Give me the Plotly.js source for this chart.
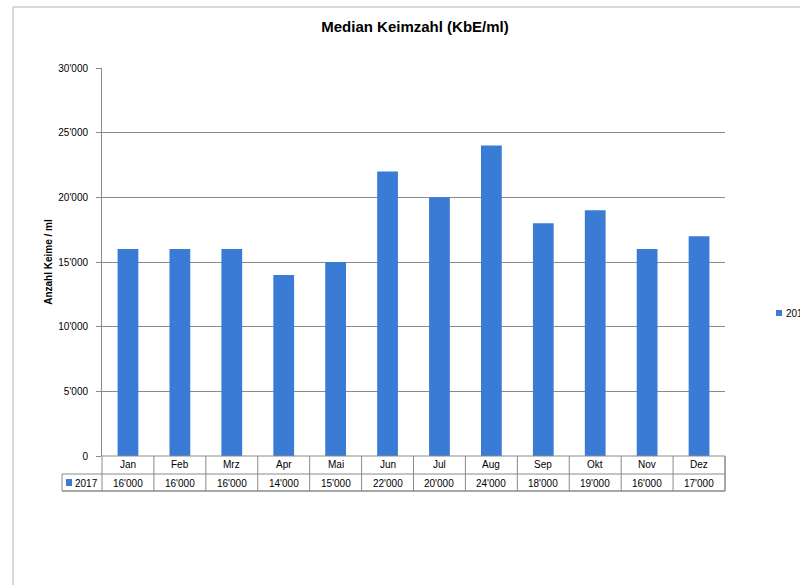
<!DOCTYPE html>
<html>
<head>
<meta charset="utf-8">
<script src="https://cdn.plot.ly/plotly-3.0.1.min.js"></script>
<style>html,body{margin:0;padding:0;background:#fff;}#chart{width:800px;height:585px;}</style>
</head>
<body>
<div id="chart"></div>
<script>
const months = ['Jan','Feb','Mrz','Apr','Mai','Jun','Jul','Aug','Sep','Okt','Nov','Dez'];
const values2017 = [16000,16000,16000,14000,15000,22000,20000,24000,18000,19000,16000,17000];
const seriesName = '2017';
const yTickVals = [0,5000,10000,15000,20000,25000,30000];
const yTickText = ['0',"5'000","10'000","15'000","20'000","25'000","30'000"];
const titleText = 'Median Keimzahl (KbE/ml)';
const yTitleText = 'Anzahl Keime / ml';

const W = 800, H = 585;
const L = 102, R = 725, T = 68, B = 456;
const pw = R - L, ph = B - T;
const px = x => (x - L) / pw;
const py = y => (B - y) / ph;

const barColor = '#3a7bd5';
const lineColor = '#8a8a8a';
const font = 'Liberation Sans, Arial, sans-serif';

function fmt(v) {
  const s = String(v);
  return s.length > 3 ? s.slice(0, s.length - 3) + "'" + s.slice(-3) : s;
}

const shapes = [];
const annotations = [];

// outer chart border
shapes.push({type:'rect', xref:'paper', yref:'paper', x0:px(13), x1:px(830), y0:py(7), y1:py(620),
  line:{color:'#b4b4b4', width:1}, fillcolor:'rgba(0,0,0,0)', layer:'below'});

// table horizontal lines
shapes.push({type:'line', xref:'paper', yref:'paper', x0:px(L), x1:px(R), y0:py(B), y1:py(B), line:{color:lineColor,width:1}});
shapes.push({type:'line', xref:'paper', yref:'paper', x0:px(62), x1:px(R), y0:py(474), y1:py(474), line:{color:lineColor,width:1}});
shapes.push({type:'line', xref:'paper', yref:'paper', x0:px(62), x1:px(R), y0:py(491), y1:py(491), line:{color:lineColor,width:1.5}});
// table left verticals
shapes.push({type:'line', xref:'paper', yref:'paper', x0:px(62), x1:px(62), y0:py(474), y1:py(491), line:{color:lineColor,width:1}});
shapes.push({type:'line', xref:'paper', yref:'paper', x0:px(L), x1:px(L), y0:py(B), y1:py(491), line:{color:lineColor,width:1}});
shapes.push({type:'line', xref:'paper', yref:'paper', x0:px(R), x1:px(R), y0:py(B), y1:py(491), line:{color:lineColor,width:1.5}});
// category dividers
for (let i = 1; i < months.length; i++) {
  shapes.push({type:'line', xref:'x', yref:'paper', x0:i-0.5, x1:i-0.5, y0:py(B), y1:py(491), line:{color:lineColor,width:1}});
}
// legend key in table
shapes.push({type:'rect', xref:'paper', yref:'paper', x0:px(66), x1:px(72), y0:py(486), y1:py(479),
  line:{width:0}, fillcolor:barColor});
annotations.push({xref:'paper', yref:'paper', x:px(73), y:py(483), xanchor:'left', yanchor:'middle',
  text:seriesName, showarrow:false, font:{family:font, size:10, color:'#000'}});

// side legend (partly outside the page, as in the reference)
shapes.push({type:'rect', xref:'paper', yref:'paper', x0:px(776), x1:px(782), y0:py(316), y1:py(310),
  line:{width:0}, fillcolor:barColor});
annotations.push({xref:'paper', yref:'paper', x:px(784), y:py(313), xanchor:'left', yanchor:'middle',
  text:seriesName, showarrow:false, font:{family:font, size:10, color:'#000'}});

months.forEach((m, i) => {
  annotations.push({xref:'x', yref:'paper', x:i, y:py(465), xanchor:'center', yanchor:'middle',
    text:m, showarrow:false, font:{family:font, size:10, color:'#000'}});
  annotations.push({xref:'x', yref:'paper', x:i, y:py(483), xanchor:'center', yanchor:'middle',
    text:fmt(values2017[i]), showarrow:false, font:{family:font, size:10, color:'#000'}});
});

const data = [{
  type:'bar', x:months, y:values2017, name:seriesName,
  marker:{color:barColor}, hoverinfo:'none', showlegend:false
}];

const layout = {
  width:W, height:H,
  margin:{l:L, r:W-R, t:T, b:H-B, autoexpand:false},
  paper_bgcolor:'#fff', plot_bgcolor:'#fff',
  bargap:0.6,
  showlegend:false,
  title:{text:'<b>'+titleText+'</b>', x:px(415), xref:'paper', xanchor:'center', y:1-27/H, yanchor:'middle',
    font:{family:font, size:15, color:'#000'}},
  xaxis:{type:'category', range:[-0.5, months.length-0.5], showticklabels:false, ticks:'',
    showgrid:false, zeroline:false, showline:false, fixedrange:true},
  yaxis:{range:[0,30000], tickvals:yTickVals, ticktext:yTickText, ticks:'outside', ticklen:5,
    tickcolor:lineColor, tickfont:{family:font, size:10, color:'#000'}, ticklabelstandoff:6,
    showgrid:true, gridcolor:lineColor, gridwidth:1, zeroline:false,
    showline:true, linecolor:lineColor, linewidth:1,
    title:{text:'<b>'+yTitleText+'</b>', font:{family:font, size:10, color:'#000'}, standoff:3}},
  shapes:shapes,
  annotations:annotations
};

Plotly.newPlot('chart', data, layout, {displayModeBar:false, staticPlot:true});
</script>
</body>
</html>
